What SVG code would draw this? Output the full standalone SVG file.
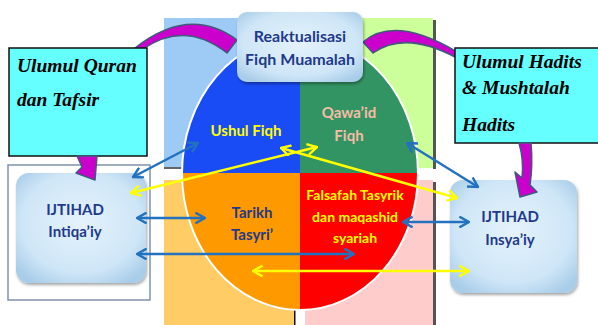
<svg xmlns="http://www.w3.org/2000/svg" width="598" height="325" viewBox="0 0 598 325">
<defs>
<style>
.sans{font-family:Lato,"Liberation Sans",sans-serif;font-weight:bold;text-anchor:middle}
.serif{font-family:"Liberation Serif",serif;font-weight:bold;font-style:italic;font-size:19.5px;fill:#000}
.navy{fill:#1f3a8a}
.yel{fill:#ffff00}
.cyanbox{fill:#66ffff;stroke:#111;stroke-width:1.5}
.mag{fill:#cc00cc;stroke:#3e5b7c;stroke-width:1.5;stroke-linejoin:round}
.blue{stroke:#2272c0;stroke-width:2.5;fill:none;marker-start:url(#hb);marker-end:url(#hb)}
.ylw{stroke:#ffff00;stroke-width:2.5;fill:none;marker-start:url(#hy);marker-end:url(#hy)}
</style>
<radialGradient id="boxg" cx="50%" cy="45%" r="65%">
<stop offset="0" stop-color="#e4f2fc"/>
<stop offset="0.7" stop-color="#cfe6f7"/>
<stop offset="1" stop-color="#a9cde9"/>
</radialGradient>
<filter id="sh" x="-20%" y="-20%" width="140%" height="140%">
<feDropShadow dx="1" dy="2" stdDeviation="1.5" flood-color="#000" flood-opacity="0.35"/>
</filter>
<marker id="hb" viewBox="0 0 10 10" refX="9" refY="5" markerWidth="12" markerHeight="12" markerUnits="userSpaceOnUse" orient="auto-start-reverse">
<path d="M1,0.5 L9,5 L1,9.5" fill="none" stroke="#2272c0" stroke-width="2"/>
</marker>
<marker id="hy" viewBox="0 0 10 10" refX="9" refY="5" markerWidth="12" markerHeight="12" markerUnits="userSpaceOnUse" orient="auto-start-reverse">
<path d="M1,0.5 L9,5 L1,9.5" fill="none" stroke="#ffff00" stroke-width="2"/>
</marker>
</defs>

<g id="background">
<rect x="164" y="18" width="136" height="150" fill="#9ecbf6"/>
<line x1="164" y1="168" x2="300" y2="168" stroke="#666" stroke-width="2"/>
<rect x="300" y="18" width="133" height="150" fill="#ccff99"/>
<rect x="433" y="20" width="3" height="149" fill="#555"/>
<rect x="164" y="180" width="130" height="145" fill="#ffcc66"/>
<rect x="294" y="180" width="1.5" height="145" fill="#111"/>
<rect x="305" y="180" width="128" height="145" fill="#ffcccc"/>
<rect x="433" y="182" width="3" height="143" fill="#555"/>
</g>

<g id="ellipse-quadrants">
<clipPath id="ec"><ellipse cx="300" cy="173" rx="118" ry="137"/></clipPath>
<g clip-path="url(#ec)">
<rect x="180" y="30" width="120" height="143" fill="#1a4cf5"/>
<rect x="300" y="30" width="120" height="143" fill="#339463"/>
<rect x="180" y="173" width="120" height="140" fill="#ff9900"/>
<rect x="300" y="173" width="120" height="140" fill="#ff0000"/>
</g>
<ellipse cx="300" cy="173" rx="118" ry="137" fill="none" stroke="#fff" stroke-width="2"/>
</g>

<g id="ushul-fiqh"><text class="sans yel" x="246" y="136" font-size="15">Ushul Fiqh</text></g>
<g id="qawaid-fiqh"><text class="sans" fill="#f5bca6" x="349" y="118" font-size="15">Qawa’id</text><text class="sans" fill="#f5bca6" x="349" y="141" font-size="15">Fiqh</text></g>
<g id="tarikh-tasyri"><text class="sans navy" x="252" y="218" font-size="15">Tarikh</text><text class="sans navy" x="252" y="240" font-size="15">Tasyri’</text></g>
<g id="falsafah"><text class="sans yel" x="355" y="200" font-size="14">Falsafah Tasyrik</text><text class="sans yel" x="355" y="222" font-size="14">dan maqashid</text><text class="sans yel" x="355" y="243" font-size="14">syariah</text></g>

<g id="curved-arrows">
<path class="mag" d="M135,48 Q190,5 237,40 L227,53 Q185,20 143,49 Z"/>
<path class="mag" d="M363,42 Q395,15 457,52 L457,58 Q405,30 373,53 Z"/>
</g>

<g id="ulumul-quran">
<rect class="cyanbox" x="9" y="48" width="138" height="108"/>
<text class="serif" x="17" y="72">Ulumul Quran</text>
<text class="serif" x="17" y="106">dan Tafsir</text>
</g>

<g id="ulumul-hadits">
<rect class="cyanbox" x="455" y="48" width="150" height="95"/>
<text class="serif" x="462" y="68">Ulumul Hadits</text>
<text class="serif" x="462" y="94">&amp; Mushtalah</text>
<text class="serif" x="462" y="131">Hadits</text>
</g>

<g id="ijtihad-intiqaiy">
<rect x="8" y="165" width="142" height="135" fill="#fff" stroke="#8193ad" stroke-width="1.5"/>
<rect x="16" y="173" width="130" height="110" rx="13" fill="url(#boxg)" filter="url(#sh)"/>
<text class="sans navy" x="75" y="215" font-size="15">IJTIHAD</text>
<text class="sans navy" x="75" y="237" font-size="15">Intiqa’iy</text>
</g>

<g id="ijtihad-insyaiy">
<rect x="450" y="180" width="127" height="113" rx="13" fill="url(#boxg)" filter="url(#sh)"/>
<text class="sans navy" x="510" y="222" font-size="15">IJTIHAD</text>
<text class="sans navy" x="510" y="245" font-size="15">Insya’iy</text>
</g>

<g id="reaktualisasi">
<rect x="237" y="12" width="126" height="70" rx="10" fill="url(#boxg)" filter="url(#sh)"/>
<text class="sans navy" x="300" y="42" font-size="16">Reaktualisasi</text>
<text class="sans navy" x="300" y="65" font-size="16">Fiqh Muamalah</text>
</g>

<g id="down-arrows">
<path class="mag" d="M77,156 L97,156 L95,180 L76,173 L82,167 Z"/>
<path class="mag" d="M519,143 L531,143 Q533,165 530,185 L537,192 L520,197 L515,172 L522,178 Q524,160 519,143 Z"/>
</g>

<g id="connectors">
<line class="blue" x1="133" y1="177" x2="198" y2="143"/>
<line class="blue" x1="137" y1="218" x2="205" y2="218"/>
<line class="blue" x1="137" y1="254" x2="354" y2="254"/>
<line class="blue" x1="403" y1="222" x2="469" y2="222"/>
<line class="blue" x1="407" y1="143" x2="478" y2="187"/>
<line class="ylw" x1="131" y1="193" x2="317" y2="147"/>
<line class="ylw" x1="281" y1="148" x2="457" y2="198"/>
<line class="ylw" x1="253" y1="271" x2="469" y2="271"/>
</g>
</svg>
